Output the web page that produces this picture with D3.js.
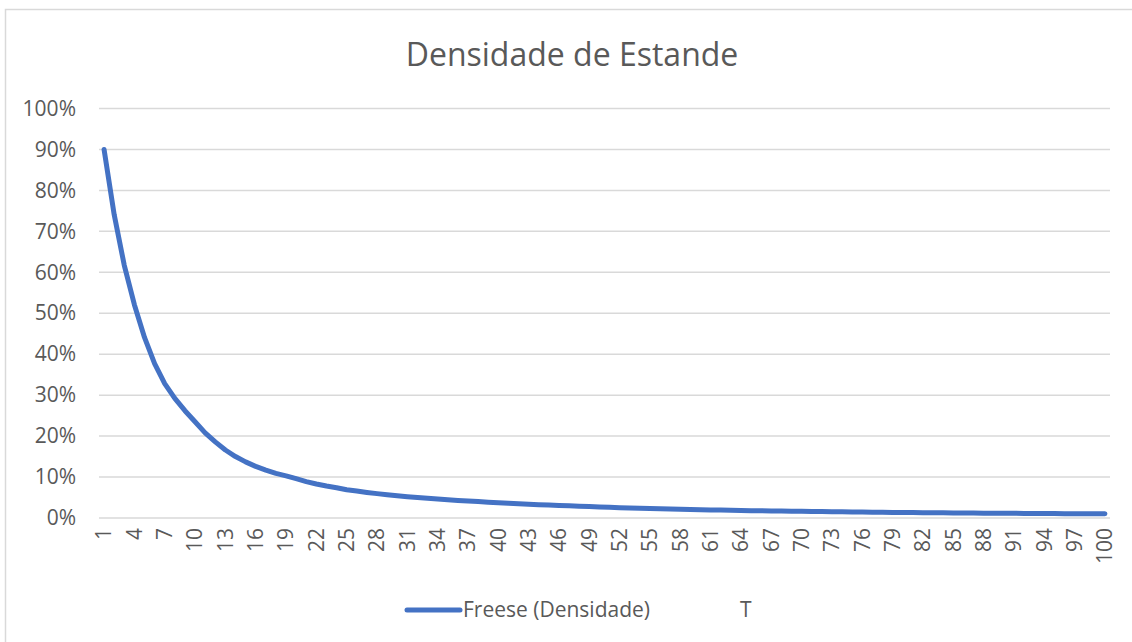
<!DOCTYPE html>
<html>
<head>
<meta charset="utf-8">
<script src="https://cdn.jsdelivr.net/npm/d3@7"></script>
<style>
    body { margin: 0; background: #fff; }
    text { font-family: "Open Sans", sans-serif; fill: #595959; }
</style>
</head>
<body>
<svg id="chart" width="1132" height="642"></svg>
<script>
//  categories 1..100 (the "T" column)
const categories = d3.range(1, 101);

//  Freese (Densidade)
const densidade = [
    0.900, 0.741, 0.617, 0.521, 0.441, 0.377, 0.328, 0.292, 0.262, 0.235,
    0.208, 0.186, 0.166, 0.150, 0.137, 0.126, 0.117, 0.109, 0.103, 0.096,
    0.089, 0.083, 0.078, 0.074, 0.069, 0.066, 0.0625, 0.0595, 0.0568, 0.0543,
    0.0521, 0.0500, 0.0481, 0.0463, 0.0446, 0.0429, 0.0415, 0.0402, 0.0386, 0.0373,
    0.0360, 0.0347, 0.0337, 0.0326, 0.0315, 0.0306, 0.0298, 0.0289, 0.0279, 0.0270,
    0.0261, 0.0253, 0.0245, 0.0238, 0.0231, 0.0225, 0.0218, 0.0213, 0.0207, 0.0202,
    0.0197, 0.0193, 0.0188, 0.0184, 0.0180, 0.0176, 0.0172, 0.0168, 0.0165, 0.0162,
    0.0158, 0.0156, 0.0153, 0.0150, 0.0147, 0.0145, 0.0142, 0.0139, 0.0137, 0.0135,
    0.0133, 0.0130, 0.0128, 0.0126, 0.0124, 0.0123, 0.0121, 0.0119, 0.0117, 0.0116,
    0.0114, 0.0112, 0.0111, 0.0109, 0.0108, 0.0106, 0.0105, 0.0104, 0.0102, 0.0101
];

const yTicks = [0, 0.1, 0.2, 0.3, 0.4, 0.5, 0.6, 0.7, 0.8, 0.9, 1.0];
const xTickLabels = categories.filter((c, i) => i % 3 === 0);

const title = "Densidade de Estande";
const seriesNames = ["Freese (Densidade)", "T"];

const blue = "#4472C4";
const grid = "#d9d9d9";
const fontSize = 21;

const svg = d3.select("#chart");

//  outer chart frame (right and bottom edges fall outside the picture)
svg.append("rect")
    .attr("x", 5.5).attr("y", 9.5)
    .attr("width", 1200).attr("height", 700)
    .attr("fill", "none")
    .attr("stroke", grid)
    .attr("stroke-width", 1.5);

const plot = { left: 99, right: 1110, top: 108.5, bottom: 518 };

const x = d3.scaleBand()
    .domain(categories)
    .range([plot.left, plot.right]);

const y = d3.scaleLinear()
    .domain([0, 1])
    .range([plot.bottom, plot.top]);

//  gridlines
svg.append("g")
    .selectAll("line")
    .data(yTicks)
    .join("line")
    .attr("x1", plot.left).attr("x2", plot.right)
    .attr("y1", d => y(d)).attr("y2", d => y(d))
    .attr("stroke", grid)
    .attr("stroke-width", 1.5);

//  y axis labels
const yAxis = d3.axisLeft(y)
    .tickValues(yTicks)
    .tickFormat(d3.format(".0%"))
    .tickSize(0)
    .tickPadding(23);

svg.append("g")
    .attr("transform", `translate(${plot.left},0)`)
    .call(yAxis)
    .call(g => g.select(".domain").remove())
    .selectAll("text")
    .attr("font-size", fontSize)
    .attr("fill", "#595959")
    .attr("font-family", "Open Sans, sans-serif");

//  x axis labels, rotated
const xAxis = d3.axisBottom(x)
    .tickValues(xTickLabels)
    .tickSize(0)
    .tickPadding(0);

svg.append("g")
    .attr("transform", `translate(0,${plot.bottom})`)
    .call(xAxis)
    .call(g => g.select(".domain").remove())
    .selectAll("text")
    .attr("font-size", fontSize)
    .attr("fill", "#595959")
    .attr("font-family", "Open Sans, sans-serif")
    .attr("text-anchor", "end")
    .attr("dy", "0.35em")
    .attr("transform", "translate(0,10) rotate(-90)");

//  the line
const line = d3.line()
    .x((d, i) => x(categories[i]) + x.bandwidth() / 2)
    .y(d => y(d));

svg.append("path")
    .datum(densidade)
    .attr("d", line)
    .attr("fill", "none")
    .attr("stroke", blue)
    .attr("stroke-width", 5)
    .attr("stroke-linejoin", "round")
    .attr("stroke-linecap", "round");

//  title
svg.append("text")
    .attr("x", 572).attr("y", 66)
    .attr("text-anchor", "middle")
    .attr("font-size", 32)
    .text(title);

//  legend
const legend = svg.append("g");
legend.append("line")
    .attr("x1", 407).attr("x2", 460)
    .attr("y1", 610).attr("y2", 610)
    .attr("stroke", blue)
    .attr("stroke-width", 5)
    .attr("stroke-linecap", "round");
legend.append("text")
    .attr("x", 463).attr("y", 617)
    .attr("font-size", fontSize)
    .text(seriesNames[0]);
legend.append("text")
    .attr("x", 740).attr("y", 617)
    .attr("font-size", fontSize)
    .text(seriesNames[1]);
</script>
</body>
</html>
